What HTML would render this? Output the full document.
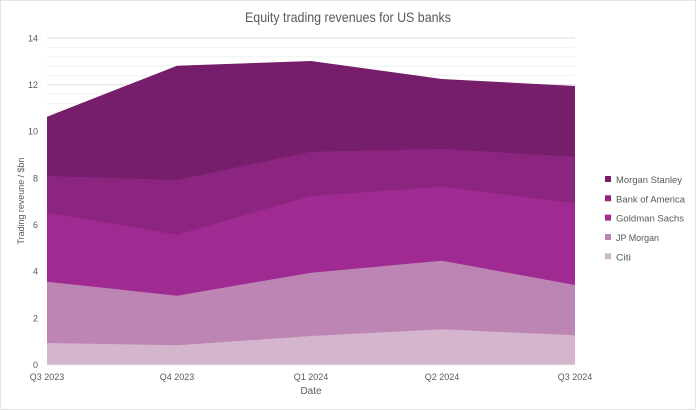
<!DOCTYPE html>
<html><head><meta charset="utf-8"><style>
html,body{margin:0;padding:0;background:#fff;}
svg{display:block;}
text{font-family:"Liberation Sans",sans-serif;fill:#595959;}
</style></head><body>
<svg width="696" height="410" viewBox="0 0 696 410" xmlns="http://www.w3.org/2000/svg">
<rect x="0.5" y="0.5" width="695" height="409" fill="#fff" stroke="#e3e3e3"/>
<text x="348" y="22" font-size="14" text-anchor="middle" textLength="206" lengthAdjust="spacingAndGlyphs">Equity trading revenues for US banks</text>
<g stroke="#f2f2f2" stroke-width="1">
<line x1="47" x2="575" y1="355.4" y2="355.4"/><line x1="47" x2="575" y1="346.0" y2="346.0"/><line x1="47" x2="575" y1="336.7" y2="336.7"/><line x1="47" x2="575" y1="327.4" y2="327.4"/>
<line x1="47" x2="575" y1="308.7" y2="308.7"/><line x1="47" x2="575" y1="299.4" y2="299.4"/><line x1="47" x2="575" y1="290.0" y2="290.0"/><line x1="47" x2="575" y1="280.7" y2="280.7"/>
<line x1="47" x2="575" y1="262.0" y2="262.0"/><line x1="47" x2="575" y1="252.7" y2="252.7"/><line x1="47" x2="575" y1="243.4" y2="243.4"/><line x1="47" x2="575" y1="234.0" y2="234.0"/>
<line x1="47" x2="575" y1="215.4" y2="215.4"/><line x1="47" x2="575" y1="206.0" y2="206.0"/><line x1="47" x2="575" y1="196.7" y2="196.7"/><line x1="47" x2="575" y1="187.4" y2="187.4"/>
<line x1="47" x2="575" y1="168.7" y2="168.7"/><line x1="47" x2="575" y1="159.4" y2="159.4"/><line x1="47" x2="575" y1="150.0" y2="150.0"/><line x1="47" x2="575" y1="140.7" y2="140.7"/>
<line x1="47" x2="575" y1="122.0" y2="122.0"/><line x1="47" x2="575" y1="112.7" y2="112.7"/><line x1="47" x2="575" y1="103.4" y2="103.4"/><line x1="47" x2="575" y1="94.0" y2="94.0"/>
<line x1="47" x2="575" y1="75.4" y2="75.4"/><line x1="47" x2="575" y1="66.0" y2="66.0"/><line x1="47" x2="575" y1="56.7" y2="56.7"/><line x1="47" x2="575" y1="47.4" y2="47.4"/>
</g>
<g stroke="#dedede" stroke-width="1">
<line x1="47" x2="575" y1="318" y2="318"/><line x1="47" x2="575" y1="271.3" y2="271.3"/><line x1="47" x2="575" y1="224.7" y2="224.7"/><line x1="47" x2="575" y1="178" y2="178"/><line x1="47" x2="575" y1="131.3" y2="131.3"/><line x1="47" x2="575" y1="84.7" y2="84.7"/><line x1="47" x2="575" y1="38" y2="38"/>
</g>
<!-- stacked areas -->
<polygon fill="#761e6c" points="47,364.7 47,116.7 177,65.7 311,61 442,79 575,86 575,364.7"/>
<polygon fill="#8c257f" points="47,364.7 47,176 177,180 311,151.7 442,149 575,156.7 575,364.7"/>
<polygon fill="#9f2a91" points="47,364.7 47,212.7 177,234.7 311,196 442,186.7 575,203.3 575,364.7"/>
<polygon fill="#bd85b3" points="47,364.7 47,281.7 177,295.7 311,272.7 442,260.7 575,285 575,364.7"/>
<polygon fill="#d4b5cd" points="47,364.7 47,343 177,345.3 311,336 442,329.3 575,335.3 575,364.7"/>
<line x1="47" x2="575" y1="364.7" y2="364.7" stroke="#d9d9d9"/>
<g font-size="9" text-anchor="end">
<text x="38" y="368">0</text><text x="38" y="321.3">2</text><text x="38" y="274.6">4</text><text x="38" y="228">6</text><text x="38" y="181.3">8</text><text x="38" y="134.6">10</text><text x="38" y="88">12</text><text x="38" y="41.3">14</text>
</g>
<g font-size="9" text-anchor="middle">
<text x="47" y="380">Q3 2023</text><text x="177" y="380">Q4 2023</text><text x="311" y="380">Q1 2024</text><text x="442" y="380">Q2 2024</text><text x="575" y="380">Q3 2024</text>
</g>
<text x="311" y="394" font-size="10" text-anchor="middle">Date</text>
<text transform="translate(24,201) rotate(-90)" font-size="9.5" text-anchor="middle" textLength="87" lengthAdjust="spacingAndGlyphs">Trading reveune / $bn</text>
<g font-size="9.5">
<rect x="605" y="176" width="6" height="6" fill="#761e6c"/><text x="616" y="183" textLength="66" lengthAdjust="spacingAndGlyphs">Morgan Stanley</text>
<rect x="605" y="195.3" width="6" height="6" fill="#8c257f"/><text x="616" y="202.3" textLength="69" lengthAdjust="spacingAndGlyphs">Bank of America</text>
<rect x="605" y="214.6" width="6" height="6" fill="#9f2a91"/><text x="616" y="221.6" textLength="68" lengthAdjust="spacingAndGlyphs">Goldman Sachs</text>
<rect x="605" y="234" width="6" height="6" fill="#bd85b3"/><text x="616" y="241" textLength="43" lengthAdjust="spacingAndGlyphs">JP Morgan</text>
<rect x="605" y="253.3" width="6" height="6" fill="#d4b5cd"/><text x="616" y="260.3" textLength="15" lengthAdjust="spacingAndGlyphs">Citi</text>
</g>
</svg>
</body></html>
